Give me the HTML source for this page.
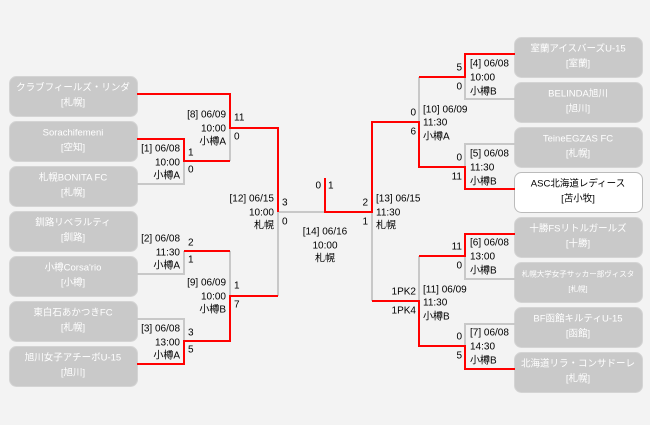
<!DOCTYPE html>
<html><head><meta charset="utf-8"><style>
html,body{margin:0;padding:0;background:#f3f3f3;}
svg{display:block;font-family:"Liberation Sans","Noto Sans CJK JP",sans-serif;}
</style></head><body>
<svg width="650" height="425" viewBox="0 0 650 425" xmlns="http://www.w3.org/2000/svg">
<rect width="650" height="425" fill="#f3f3f3"/>
<g fill="#c9c9c9" stroke="#d4d4d4" stroke-width="1">
<rect x="9.5" y="76.5" width="128" height="40" rx="7"/>
<rect x="9.5" y="121.5" width="128" height="40" rx="7"/>
<rect x="9.5" y="166.5" width="128" height="40" rx="7"/>
<rect x="9.5" y="211.5" width="128" height="40" rx="7"/>
<rect x="9.5" y="256.5" width="128" height="40" rx="7"/>
<rect x="9.5" y="301.5" width="128" height="40" rx="7"/>
<rect x="9.5" y="346.5" width="128" height="40" rx="7"/>
<rect x="514.5" y="37.5" width="128" height="40" rx="7"/>
<rect x="514.5" y="82.5" width="128" height="40" rx="7"/>
<rect x="514.5" y="127.5" width="128" height="40" rx="7"/>
<rect x="514.5" y="217.5" width="128" height="40" rx="7"/>
<rect x="514.5" y="262.5" width="128" height="40" rx="7"/>
<rect x="514.5" y="307.5" width="128" height="40" rx="7"/>
<rect x="514.5" y="352.5" width="128" height="40" rx="7"/>
</g>
<rect x="514.5" y="172.5" width="128" height="40" rx="7" fill="#fff" stroke="#bbb"/>
<g fill="#fff" font-size="9.5" text-anchor="middle" dominant-baseline="central">
<text x="73" y="88">クラブフィールズ・リンダ</text><text x="73" y="103">[札幌]</text>
<text x="73" y="133">Sorachifemeni</text><text x="73" y="148">[空知]</text>
<text x="73" y="178">札幌BONITA FC</text><text x="73" y="193">[札幌]</text>
<text x="73" y="223">釧路リベラルティ</text><text x="73" y="238">[釧路]</text>
<text x="73" y="268">小樽Corsa'rio</text><text x="73" y="283">[小樽]</text>
<text x="73" y="313">東白石あかつきFC</text><text x="73" y="328">[札幌]</text>
<text x="73" y="358">旭川女子アチーボU-15</text><text x="73" y="373">[旭川]</text>
<text x="578" y="49">室蘭アイスバーズU-15</text><text x="578" y="64">[室蘭]</text>
<text x="578" y="94">BELINDA旭川</text><text x="578" y="109">[旭川]</text>
<text x="578" y="139">TeineEGZAS FC</text><text x="578" y="154">[札幌]</text>
<text x="578" y="229">十勝FSリトルガールズ</text><text x="578" y="244">[十勝]</text>
<text x="578" y="274" font-size="7.5">札幌大学女子サッカー部ヴィスタ</text><text x="578" y="289" font-size="7.5">[札幌]</text>
<text x="578" y="319">BF函館キルティU-15</text><text x="578" y="334">[函館]</text>
<text x="578" y="364">北海道リラ・コンサドーレ</text><text x="578" y="379">[札幌]</text>
</g>
<g fill="#000" font-size="9.5" text-anchor="middle" dominant-baseline="central">
<text x="578" y="184">ASC北海道レディース</text><text x="578" y="199">[苫小牧]</text>
</g>
<g fill="none" stroke-width="2">
<g stroke="#c8c8c8">
<path d="M137 184H184V161"/>
<path d="M137 274H184V251"/>
<path d="M137 319H184V341"/>
<path d="M230 128V161"/>
<path d="M230 251V296"/>
<path d="M278 212V296"/>
<path d="M278 212H325"/>
<path d="M515 99H465V77"/>
<path d="M515 144H465V167"/>
<path d="M515 279H465V256"/>
<path d="M515 324H465V346"/>
<path d="M419 77V122"/>
<path d="M419 256V301"/>
<path d="M372 212V301"/>
</g>
<g stroke="#ff0000">
<path d="M137 94H230V128H278V212"/>
<path d="M137 139H184V161H230"/>
<path d="M184 251H230"/>
<path d="M137 364H184V341H230V296H278"/>
<path d="M325 178V212H372V122H419V167H465V189H515"/>
<path d="M419 77H465V54H515"/>
<path d="M372 301H419V346H465V369H515"/>
<path d="M419 256H465V234H515"/>
</g>
</g>
<g fill="#000" font-size="10" dominant-baseline="central">
<g text-anchor="end">
<text x="180" y="149">[1] 06/08</text><text x="180" y="163">10:00</text><text x="180" y="176">小樽A</text>
<text x="180" y="239">[2] 06/08</text><text x="180" y="253">11:30</text><text x="180" y="266">小樽A</text>
<text x="180" y="329">[3] 06/08</text><text x="180" y="343">13:00</text><text x="180" y="356">小樽A</text>
<text x="226" y="115">[8] 06/09</text><text x="226" y="129">10:00</text><text x="226" y="142">小樽A</text>
<text x="226" y="283">[9] 06/09</text><text x="226" y="297">10:00</text><text x="226" y="310">小樽B</text>
<text x="274" y="199">[12] 06/15</text><text x="274" y="213">10:00</text><text x="274" y="226">札幌</text>
<text x="462" y="68">5</text><text x="462" y="87">0</text>
<text x="462" y="158">0</text><text x="462" y="177">11</text>
<text x="462" y="247">11</text><text x="462" y="266">0</text>
<text x="462" y="337">0</text><text x="462" y="356">5</text>
<text x="416" y="113">0</text><text x="416" y="132">6</text>
<text x="416" y="292">1PK2</text><text x="416" y="311">1PK4</text>
<text x="368" y="203">2</text><text x="368" y="222">1</text>
<text x="321" y="186">0</text>
</g>
<g text-anchor="start">
<text x="188" y="153">1</text><text x="188" y="170">0</text>
<text x="188" y="243">2</text><text x="188" y="260">1</text>
<text x="188" y="333">3</text><text x="188" y="350">5</text>
<text x="234" y="118">11</text><text x="234" y="137">0</text>
<text x="234" y="286">1</text><text x="234" y="305">7</text>
<text x="282" y="203">3</text><text x="282" y="222">0</text>
<text x="328" y="186">1</text>
<text x="470" y="64">[4] 06/08</text><text x="470" y="78">10:00</text><text x="470" y="92">小樽B</text>
<text x="470" y="154">[5] 06/08</text><text x="470" y="168">11:30</text><text x="470" y="182">小樽B</text>
<text x="470" y="243">[6] 06/08</text><text x="470" y="257">13:00</text><text x="470" y="271">小樽B</text>
<text x="470" y="333">[7] 06/08</text><text x="470" y="347">14:30</text><text x="470" y="361">小樽B</text>
<text x="423" y="110">[10] 06/09</text><text x="423" y="123">11:30</text><text x="423" y="137">小樽A</text>
<text x="423" y="290">[11] 06/09</text><text x="423" y="303">11:30</text><text x="423" y="317">小樽B</text>
<text x="376" y="199">[13] 06/15</text><text x="376" y="213">11:30</text><text x="376" y="226">札幌</text>
</g>
<g text-anchor="middle">
<text x="325" y="232">[14] 06/16</text><text x="325" y="246">10:00</text><text x="325" y="259">札幌</text>
</g>
</g>
</svg>
</body></html>
